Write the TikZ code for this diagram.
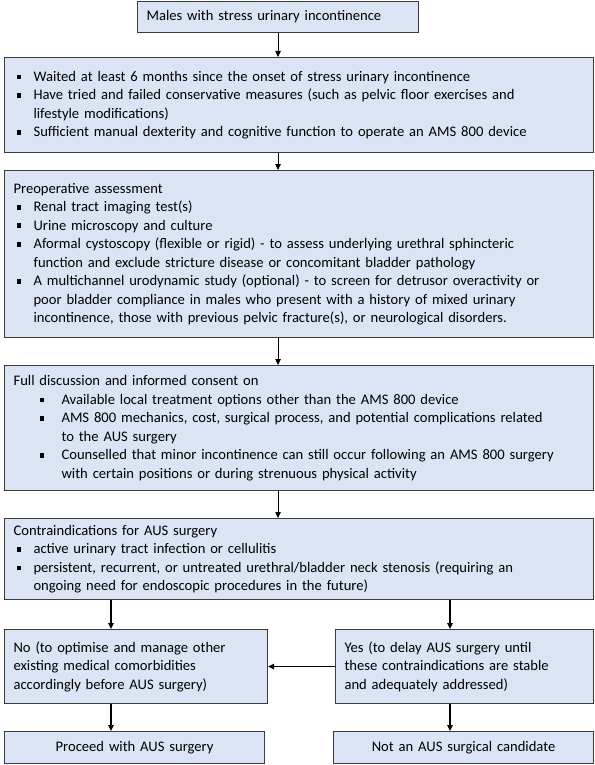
\documentclass[tikz,border=0pt]{standalone}
\usepackage{fontspec}
\setmainfont{Carlito}
\usetikzlibrary{arrows.meta}
\definecolor{boxfill}{HTML}{DAE4F4}
\definecolor{boxline}{HTML}{3C3C3C}
\newcommand\sq{\rule[2pt]{4.6pt}{4.6pt}}
\newcommand\bi{\makebox[20pt][l]{\hspace{3pt}\sq}}
\newcommand\ci{\hspace*{20pt}}
\newcommand\bj{\makebox[48pt][l]{\hspace{26pt}\sq}}
\newcommand\cj{\hspace*{48pt}}
\begin{document}
\begin{tikzpicture}[x=1pt,y=-1pt,
  box/.style={draw=boxline, fill=boxfill, line width=1.1pt, anchor=north west,
    inner xsep=9pt, inner ysep=0pt, font=\fontsize{14.6}{18.5}\selectfont, align=left},
  arr/.style={-{Triangle[length=6pt,width=5.5pt]}, line width=1.1pt, draw=black}]
\path[use as bounding box] (0,0) rectangle (594,765);

\node[box, text width=263pt, minimum height=31pt] (b1) at (137,1)
  {Males with stress urinary incontinence};

\node[box, text width=571pt, minimum height=95pt] (b2) at (4,57)
  {\bi Waited at least 6 months since the onset of stress urinary incontinence\\
   \bi Have tried and failed conservative measures (such as pelvic floor exercises and\\
   \ci lifestyle modifications)\\
   \bi Sufficient manual dexterity and cognitive function to operate an AMS 800 device};

\node[box, text width=571pt, minimum height=167pt] (b3) at (4,170)
  {Preoperative assessment\\
   \bi Renal tract imaging test(s)\\
   \bi Urine microscopy and culture\\
   \bi Aformal cystoscopy (flexible or rigid) - to assess underlying urethral sphincteric\\
   \ci function and exclude stricture disease or concomitant bladder pathology\\
   \bi A multichannel urodynamic study (optional) - to screen for detrusor overactivity or\\
   \ci poor bladder compliance in males who present with a history of mixed urinary\\
   \ci incontinence, those with previous pelvic fracture(s), or neurological disorders.};

\node[box, text width=571pt, minimum height=125pt] (b4) at (4,365)
  {Full discussion and informed consent on\\
   \bj Available local treatment options other than the AMS 800 device\\
   \bj AMS 800 mechanics, cost, surgical process, and potential complications related\\
   \cj to the AUS surgery\\
   \bj Counselled that minor incontinence can still occur following an AMS 800 surgery\\
   \cj with certain positions or during strenuous physical activity};

\node[box, text width=571pt, minimum height=81pt] (b5) at (4,518)
  {Contraindications for AUS surgery\\
   \bi active urinary tract infection or cellulitis\\
   \bi persistent, recurrent, or untreated urethral/bladder neck stenosis (requiring an\\
   \ci ongoing need for endoscopic procedures in the future)};

\node[box, text width=245pt, minimum height=74pt] (no) at (4,629)
  {No (to optimise and manage other\\
   existing medical comorbidities\\
   accordingly before AUS surgery)};

\node[box, text width=240pt, minimum height=74pt] (yes) at (335,629)
  {Yes (to delay AUS surgery until\\
   these contraindications are stable\\
   and adequately addressed)};

\node[box, align=center, text width=242pt, minimum height=32pt] (proc) at (4,731)
  {Proceed with AUS surgery};

\node[box, align=center, text width=242pt, minimum height=32pt] (notc) at (333,731)
  {Not an AUS surgical candidate};

\coordinate (xl) at (111,0);
\coordinate (xr) at (450,0);

\draw[arr] (b1.south) -- (b1.south |- b2.north);
\draw[arr] (b1.south |- b2.south) -- (b1.south |- b3.north);
\draw[arr] (b1.south |- b3.south) -- (b1.south |- b4.north);
\draw[arr] (b1.south |- b4.south) -- (b1.south |- b5.north);
\draw[arr] (b5.south -| xl) -- (no.north -| xl);
\draw[arr] (b5.south -| xr) -- (yes.north -| xr);
\draw[arr] (yes.west) -- (no.east);
\draw[arr] (no.south -| xl) -- (proc.north -| xl);
\draw[arr] (yes.south -| xr) -- (notc.north -| xr);
\end{tikzpicture}
\end{document}
